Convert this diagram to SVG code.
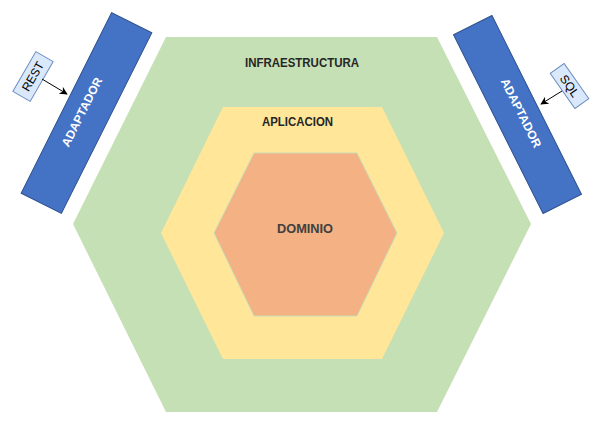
<svg xmlns="http://www.w3.org/2000/svg" width="604" height="431" viewBox="0 0 604 431">
<style>
.lbl{font-family:"Liberation Sans",Arial,sans-serif;font-weight:bold;fill:#262626;text-anchor:middle}
.ad{fill:#4472C4;stroke:#2F528F;stroke-width:1}
.adt{font-family:"Liberation Sans",Arial,sans-serif;font-weight:bold;font-size:12px;fill:#FFFFFF;text-anchor:middle;dominant-baseline:central}
.tag{fill:#DAE8FC;stroke:#6C8EBF;stroke-width:1}
.tagt{font-family:"Liberation Sans",Arial,sans-serif;font-size:12px;fill:#000;text-anchor:middle;dominant-baseline:central}
.con{stroke:#000;stroke-width:1;fill:none;marker-end:url(#ah)}
</style>
<defs>
<marker id="ah" viewBox="0 0 10 10" refX="9" refY="5" markerWidth="8" markerHeight="8" markerUnits="userSpaceOnUse" orient="auto">
<path d="M0,0 L10,5 L0,10 L3,5 Z" fill="#000"/>
</marker>
</defs>
<rect width="604" height="431" fill="#FFFFFF"/>
<g id="infraestructura">
<polygon points="166,37 437,37 531,224 437,412 166,412 73,224" fill="#C5E0B4"/>
<text class="lbl" x="302" y="67" font-size="12" textLength="114" lengthAdjust="spacingAndGlyphs">INFRAESTRUCTURA</text>
</g>
<g id="aplicacion">
<polygon points="223,107 382,107 444,233 382,359 223,359 161,233" fill="#FFE699"/>
<text class="lbl" x="297.5" y="126" font-size="12" textLength="71" lengthAdjust="spacingAndGlyphs">APLICACION</text>
</g>
<g id="dominio">
<polygon points="254,153 357,153 397,233 357,316 254,316 214,233" fill="#F4B183" stroke="#C9DDB6" stroke-width="1"/>
<text class="lbl" x="305" y="233" font-size="12" style="fill:#404040" textLength="56" lengthAdjust="spacingAndGlyphs">DOMINIO</text>
</g>
<g id="adaptador-left">
<rect class="ad" x="-22.5" y="-101" width="45" height="202" transform="translate(86.5,113) rotate(26.6)"/>
<text class="adt" transform="translate(82,112) rotate(-63.4)">ADAPTADOR</text>
</g>
<g id="adaptador-right">
<rect class="ad" x="-21.5" y="-100" width="43" height="200" transform="translate(517.5,114.5) rotate(-26.6)"/>
<text class="adt" transform="translate(521,113) rotate(63.4)">ADAPTADOR</text>
</g>
<g id="rest">
<rect class="tag" x="-23" y="-10" width="46" height="20" transform="translate(33,76.5) rotate(-60)"/>
<text class="tagt" transform="translate(33,76.5) rotate(-60)">REST</text>
</g>
<g id="sql">
<rect class="tag" x="-21.5" y="-8.5" width="43" height="17" transform="translate(569.5,86) rotate(55)"/>
<text class="tagt" transform="translate(569.5,86) rotate(55)">SQL</text>
</g>
<g id="connectors">
<path class="con" d="M42,79 L67,94"/>
<path class="con" d="M562,91 L541,104"/>
</g>
</svg>
